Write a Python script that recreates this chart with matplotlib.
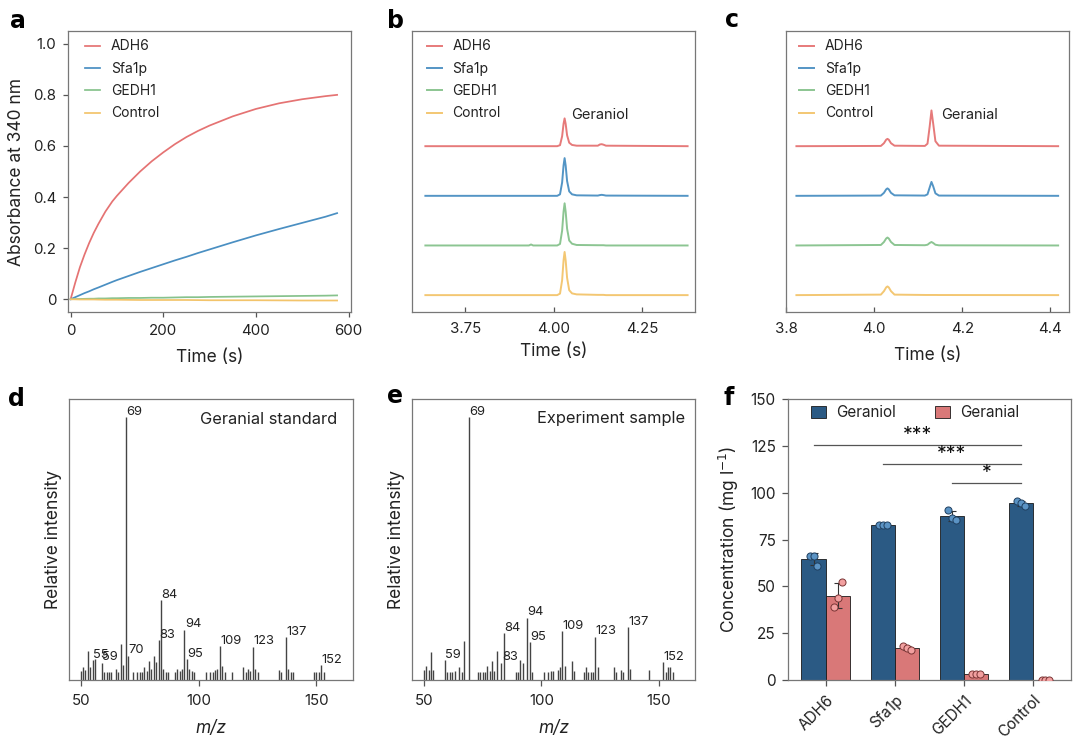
import numpy as np
import matplotlib
matplotlib.use("Agg")
import matplotlib.pyplot as plt
from matplotlib.patches import Patch

plt.rcParams['font.family'] = ['Inter', 'DejaVu Sans']
plt.rcParams['axes.linewidth'] = 0.9
plt.rcParams['axes.edgecolor'] = '#777777'

# ---------------- data ----------------
series_names = ['ADH6', 'Sfa1p', 'GEDH1', 'Control']
line_colors = ['#e57373', '#4a8fc2', '#86c28c', '#f3c46b']

# Panel a: absorbance kinetics
t_a = [0, 10, 20, 30, 40, 50, 60, 75, 90, 100, 125, 150, 175, 200, 225, 250, 275, 300, 350, 400,
       450, 500, 550, 575]
abs_adh6 = [0, 0.065, 0.125, 0.175, 0.22, 0.26, 0.295, 0.343, 0.383, 0.405, 0.455, 0.50, 0.54,
            0.575, 0.607, 0.635, 0.659, 0.68, 0.716, 0.745, 0.767, 0.783, 0.795, 0.80]
abs_sfa1p = [0, 0.008, 0.016, 0.024, 0.031, 0.039, 0.046, 0.057, 0.068, 0.075, 0.091, 0.107, 0.122,
             0.137, 0.152, 0.166, 0.181, 0.195, 0.223, 0.250, 0.275, 0.299, 0.323, 0.337]
abs_gedh1 = [0, 0.0005, 0.001, 0.0015, 0.002, 0.002, 0.003, 0.003, 0.004, 0.004, 0.005, 0.005, 0.006,
             0.006, 0.007, 0.008, 0.008, 0.009, 0.010, 0.011, 0.012, 0.013, 0.014, 0.015]
abs_control = [0, -0.0005, -0.001, -0.001, -0.001, -0.001, -0.0015, -0.002, -0.002, -0.002, -0.0025,
               -0.003, -0.003, -0.003, -0.003, -0.003, -0.0035, -0.004, -0.004, -0.004, -0.0045,
               -0.005, -0.005, -0.005]

# Panel b: chromatograms around geraniol
t_b = [3.637, 3.93, 3.936, 3.942, 4.010, 4.018, 4.024, 4.028, 4.031, 4.034, 4.038, 4.044,
       4.052, 4.065, 4.125, 4.131, 4.136, 4.141, 4.148, 4.379]
chrom_b_adh6 = [0, 0, 0, 0, 0, 0.02, 0.20, 0.45, 0.56, 0.45, 0.22, 0.07, 0.025, 0.01, 0.01, 0.035, 0.04, 0.03, 0.01, 0]
chrom_b_sfa1p = [0, 0, 0, 0, 0, 0.03, 0.27, 0.61, 0.76, 0.61, 0.30, 0.09, 0.03, 0.01, 0.005, 0.015, 0.02, 0.015, 0.005, 0]
chrom_b_gedh1 = [0, 0, 0.02, 0, 0, 0.03, 0.30, 0.68, 0.85, 0.68, 0.34, 0.10, 0.035, 0.01, 0.005, 0.005, 0.005, 0.005, 0, 0]
chrom_b_control = [0, 0, 0, 0, 0, 0.03, 0.30, 0.70, 0.87, 0.70, 0.35, 0.10, 0.035, 0.015, 0.005, 0.005, 0.005, 0.005, 0, 0]

# Panel c: chromatograms around geranial
t_c = [3.823, 4.015, 4.022, 4.027, 4.030, 4.033, 4.038, 4.046, 4.115, 4.121, 4.126, 4.130,
       4.134, 4.139, 4.147, 4.418]
chrom_c_adh6 = [0, 0.005, 0.06, 0.13, 0.147, 0.13, 0.06, 0.01, 0.005, 0.05, 0.40, 0.72, 0.45, 0.10, 0.01, 0]
chrom_c_sfa1p = [0, 0.005, 0.06, 0.13, 0.15, 0.13, 0.06, 0.01, 0.005, 0.03, 0.17, 0.28, 0.19, 0.05, 0.005, 0]
chrom_c_gedh1 = [0, 0.01, 0.07, 0.14, 0.16, 0.14, 0.07, 0.01, 0.005, 0.015, 0.05, 0.07, 0.05, 0.015, 0.003, 0]
chrom_c_control = [0, 0.01, 0.08, 0.155, 0.175, 0.155, 0.08, 0.01, 0.003, 0.003, 0.003, 0.003, 0.003, 0.003, 0.002, 0]

# Panel d: geranial standard mass spectrum
mz_d = [50, 51, 52, 53, 54, 55, 56, 59, 60, 61, 62, 63, 65, 66, 67, 68, 69, 70, 72, 74, 75, 76, 77, 78,
        79, 80, 81, 82, 83, 84, 85, 86, 87, 90, 91, 92, 93, 94, 95, 96, 97, 98, 103, 105, 106, 107, 108,
        109, 110, 111, 114, 119, 120, 121, 122, 123, 124, 125, 134, 135, 137, 138, 139, 140, 149, 150,
        151, 152, 153]
int_d = [3.5, 5.1, 3.8, 11.0, 4.8, 7.7, 8.0, 6.6, 3.0, 3.0, 3.0, 3.0, 4.3, 3.0, 13.7, 5.8, 100, 9.3,
         2.9, 2.9, 2.9, 2.9, 4.8, 3.4, 7.3, 4.3, 9.3, 7.0, 15.2, 30.5, 4.2, 2.9, 2.9, 2.9, 4.3, 3.5,
         4.3, 19.2, 7.8, 4.3, 3.4, 3.2, 2.9, 3.2, 3.2, 3.8, 4.3, 13.0, 5.5, 3.0, 2.9, 5.1, 3.0, 4.0,
         3.3, 12.7, 4.3, 3.0, 3.8, 3.0, 16.2, 4.3, 3.0, 3.0, 2.9, 2.9, 2.9, 5.8, 3.0]
labels_d = [55, 59, 69, 70, 83, 84, 94, 95, 109, 123, 137, 152]

# Panel e: experiment sample mass spectrum
mz_e = [50, 51, 52, 53, 54, 59, 60, 61, 62, 63, 65, 66, 67, 69, 73, 74, 75, 76, 77, 78, 79, 80, 81,
        83, 84, 89, 90, 91, 92, 94, 95, 96, 101, 103, 104, 105, 107, 108, 109, 110, 113, 114, 118,
        119, 120, 121, 122, 123, 124, 131, 132, 134, 135, 137, 138, 146, 152, 153, 154, 155, 156]
int_e = [3.8, 5.5, 3.8, 10.8, 3.9, 7.7, 3.0, 3.0, 3.0, 3.4, 5.0, 3.0, 14.7, 100, 3.0, 3.0, 3.0, 3.0,
         5.5, 3.5, 7.4, 3.5, 11.0, 6.6, 17.9, 3.0, 3.0, 7.6, 6.5, 23.7, 14.5, 3.0, 3.0, 3.0, 3.4,
         3.4, 3.8, 4.8, 18.5, 5.5, 7.1, 3.3, 3.0, 5.0, 3.0, 3.0, 3.0, 16.5, 4.8, 4.8, 3.0, 3.8, 3.0,
         20.0, 4.3, 3.8, 6.7, 3.0, 4.8, 5.0, 3.0]
labels_e = [59, 69, 83, 84, 94, 95, 109, 123, 137, 152]

# Panel f: concentrations (three replicates)
strains = ['ADH6', 'Sfa1p', 'GEDH1', 'Control']
geraniol_reps = [[66.4, 66.4, 60.7], [82.9, 82.9, 82.9], [90.7, 86.7, 85.3], [95.7, 94.3, 92.7]]
geranial_reps = [[39.0, 43.6, 52.5], [18.1, 17.3, 16.0], [3.2, 3.2, 3.0], [0.2, 0.2, 0.2]]
sig_pairs = [(0, 3, '***', 125.3), (1, 3, '***', 115.3), (2, 3, '*', 105.3)]

# ---------------- figure ----------------
W, H = 1080, 749
fig = plt.figure(figsize=(W / 100, H / 100), dpi=100)


def ax_px(l, t, r, b):
    return fig.add_axes([l / W, 1 - b / H, (r - l) / W, (b - t) / H])


ax_a = ax_px(68.3, 31, 351, 312)
ax_b = ax_px(412.3, 31, 695, 312)
ax_c = ax_px(786.3, 31, 1068.7, 312)
ax_d = ax_px(69, 399, 353, 680)
ax_e = ax_px(412.3, 399, 695, 680)
ax_f = ax_px(788.3, 399, 1071, 680)

TICK = 10.8
LAB = 12.5
LEG = 10
TXT = '#222222'

for ax in [ax_a, ax_b, ax_c, ax_d, ax_e, ax_f]:
    for s in ax.spines.values():
        s.set_color('#777777')
    ax.tick_params(labelsize=TICK, color='#555555', width=0.9, length=3.5, pad=5, labelcolor=TXT)

# Panel a
for vals, c, n in zip([abs_adh6, abs_sfa1p, abs_gedh1, abs_control], line_colors, series_names):
    ax_a.plot(t_a, vals, color=c, lw=1.25, label=n)
ax_a.set_xlim(-5, 605)
ax_a.set_ylim(-0.05, 1.05)
ax_a.set_xticks([0, 200, 400, 600])
ax_a.set_yticks([0, 0.2, 0.4, 0.6, 0.8, 1.0])
ax_a.set_yticklabels(['0', '0.2', '0.4', '0.6', '0.8', '1.0'])
ax_a.tick_params(direction='out')
ax_a.set_xlabel('Time (s)', fontsize=LAB, labelpad=8, color=TXT)
ax_a.set_ylabel('Absorbance at 340 nm', fontsize=LAB, labelpad=6, color=TXT)

legkw = dict(loc='upper left', frameon=False, fontsize=LEG, handlelength=1.1, handletextpad=0.75,
             labelspacing=0.6, borderaxespad=0, borderpad=0, labelcolor=TXT)
ax_a.legend(bbox_to_anchor=(0.059, 0.970), **legkw)

# Panel b
for i, (vals, c, n) in enumerate(zip([chrom_b_adh6, chrom_b_sfa1p, chrom_b_gedh1, chrom_b_control],
                                     line_colors, series_names)):
    off = 3 - i
    ax_b.plot(t_b, np.array(vals) + off, color=c, lw=1.4, alpha=0.95, label=n)
ax_b.set_xlim(3.60, 4.40)
ax_b.set_ylim(-0.34, 5.32)
ax_b.set_yticks([])
ax_b.set_xticks([3.75, 4.00, 4.25])
ax_b.set_xticklabels(['3.75', '4.00', '4.25'])
ax_b.tick_params(axis='x', direction='in', pad=7)
ax_b.set_xlabel('Time (s)', fontsize=LAB, labelpad=5, color=TXT)
ax_b.legend(bbox_to_anchor=(0.051, 0.970), **legkw)
ax_b.text(4.05, 3.62, 'Geraniol', fontsize=10.5, va='center', ha='left', color=TXT)

# Panel c
for i, (vals, c, n) in enumerate(zip([chrom_c_adh6, chrom_c_sfa1p, chrom_c_gedh1, chrom_c_control],
                                     line_colors, series_names)):
    off = 3 - i
    ax_c.plot(t_c, np.array(vals) + off, color=c, lw=1.4, alpha=0.95, label=n)
ax_c.set_xlim(3.80, 4.442)
ax_c.set_ylim(-0.34, 5.32)
ax_c.set_yticks([])
ax_c.set_xticks([3.8, 4.0, 4.2, 4.4])
ax_c.tick_params(axis='x', direction='in', pad=7)
ax_c.set_xlabel('Time (s)', fontsize=LAB, labelpad=8, color=TXT)
ax_c.legend(bbox_to_anchor=(0.045, 0.970), **legkw)
ax_c.text(4.152, 3.62, 'Geranial', fontsize=10.5, va='center', ha='left', color=TXT)

# Panels d, e
for ax, mz, inten, labs, title, inset in [(ax_d, mz_d, int_d, labels_d, 'Geranial standard', 16),
                                          (ax_e, mz_e, int_e, labels_e, 'Experiment sample', 10)]:
    ax.vlines(mz, 0, inten, color='#444444', lw=1.0)
    for m in labs:
        v = inten[mz.index(m)]
        ax.text(m + 0.15, v - 0.3, str(m), fontsize=9.3, ha='left', va='bottom', color=TXT)
    ax.set_xlim(45, 165.5)
    ax.set_ylim(0, 106.9)
    ax.set_yticks([])
    ax.set_xticks([50, 100, 150])
    ax.tick_params(axis='x', direction='out', length=4, pad=6)
    ax.set_xlabel('m/z', fontsize=LAB, style='italic', labelpad=9, color=TXT)
    ax.set_ylabel('Relative intensity', fontsize=LAB, labelpad=5, color=TXT)
    ax.text(1 - inset / 282.0, 1 - 20 / 281.0, title, transform=ax.transAxes, fontsize=11.8,
            ha='right', va='center', color=TXT)

# Panel f
navy = '#2b5a84'
pink = '#d97878'
x = np.arange(len(strains))
bw = 0.35
JIT = np.array([-0.055, 0.0, 0.055])
ger_mean = np.array([np.mean(r) for r in geraniol_reps])
ger_sd = np.array([np.std(r, ddof=1) for r in geraniol_reps])
gal_mean = np.array([np.mean(r) for r in geranial_reps])
gal_sd = np.array([np.std(r, ddof=1) for r in geranial_reps])

ax_f.bar(x - bw / 2, ger_mean, width=bw, color=navy, edgecolor='#1a1a1a', lw=0.6, label='Geraniol', zorder=2)
ax_f.bar(x + bw / 2, gal_mean, width=bw, color=pink, edgecolor='#1a1a1a', lw=0.6, label='Geranial', zorder=2)
ax_f.errorbar(x - bw / 2, ger_mean, yerr=ger_sd, fmt='none', ecolor='#333333', elinewidth=0.8,
              capsize=3, capthick=0.8, zorder=3)
ax_f.errorbar(x + bw / 2, gal_mean, yerr=gal_sd, fmt='none', ecolor='#333333', elinewidth=0.8,
              capsize=3, capthick=0.8, zorder=3)
for i in range(len(strains)):
    ax_f.scatter(x[i] - bw / 2 + JIT, geraniol_reps[i], s=26, color='#5b93c4', edgecolor='#1f3f5f',
                 lw=0.7, zorder=4)
    ax_f.scatter(x[i] + bw / 2 + JIT, geranial_reps[i], s=26, color='#f2a0a0', edgecolor='#7a3535',
                 lw=0.7, zorder=4)
for a_i, b_i, star, yv in sig_pairs:
    x1, x2 = x[a_i] - bw / 2, x[b_i] - bw / 2
    ax_f.plot([x1, x2], [yv, yv], color='#555555', lw=0.9)
    ax_f.text((x1 + x2) / 2, yv + 0.5, star, ha='center', va='bottom', fontsize=14, color='#111111')

ax_f.set_xlim(-0.54, 3.545)
ax_f.set_ylim(0, 150)
ax_f.set_yticks([0, 25, 50, 75, 100, 125, 150])
ax_f.set_xticks(x)
ax_f.set_xticklabels(strains, rotation=45, ha='right', rotation_mode='anchor', fontsize=12)
ax_f.tick_params(direction='out', length=4, labelsize=11)
ax_f.set_ylabel('Concentration (mg l$^{-1}$)', fontsize=LAB, labelpad=7, color=TXT)
ax_f.legend(handles=[Patch(facecolor=navy, edgecolor='#1a1a1a', lw=0.6, label='Geraniol'),
                     Patch(facecolor=pink, edgecolor='#1a1a1a', lw=0.6, label='Geranial')],
            loc='upper left', bbox_to_anchor=(0.079, 0.978), ncol=2, frameon=False, fontsize=11,
            handlelength=1.0, handleheight=0.9, handletextpad=0.7, columnspacing=2.5,
            borderaxespad=0, borderpad=0, labelcolor=TXT)

# Panel letters
for lx, ly, letter in [(10, 28.3, 'a'), (386.7, 28.3, 'b'), (725, 26.7, 'c'),
                       (8, 406, 'd'), (386.7, 403.3, 'e'), (724, 405, 'f')]:
    fig.text(lx / W, 1 - ly / H, letter, fontsize=17, fontweight='black', family='DejaVu Sans',
             ha='left', va='baseline')

fig.savefig('out.png', dpi=100)
